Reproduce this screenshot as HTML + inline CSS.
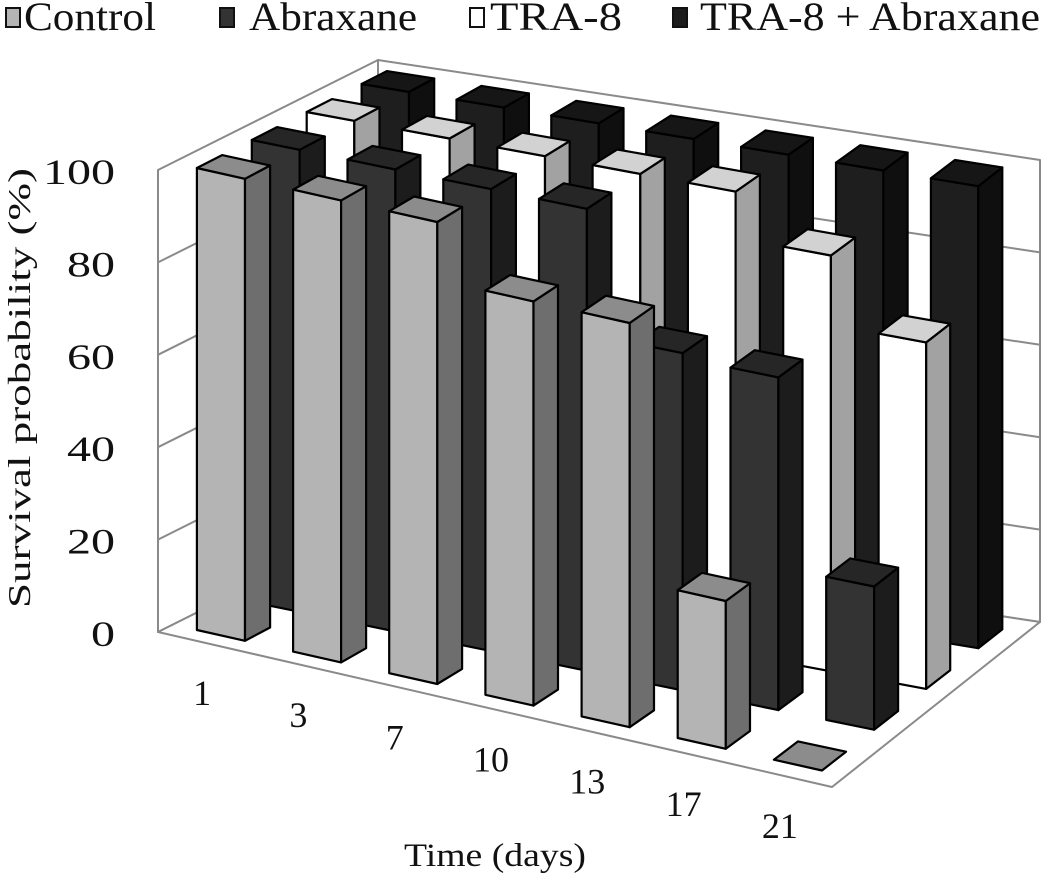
<!DOCTYPE html>
<html><head><meta charset="utf-8"><style>
html,body{margin:0;padding:0;background:#fff}
svg{display:block}
text{font-family:"Liberation Serif",serif;fill:#111}
</style></head><body>
<svg id="chart" width="1050" height="876" viewBox="0 0 1050 876" xmlns="http://www.w3.org/2000/svg">
<g id="walls"></g>
<g id="bars"></g>
<g id="labels"></g>
<text x="0" y="0" transform="translate(30,388) rotate(-90)" text-anchor="middle" font-size="32" textLength="440" lengthAdjust="spacingAndGlyphs">Survival probability (%)</text>
<text x="495" y="866" text-anchor="middle" font-size="33" textLength="182" lengthAdjust="spacingAndGlyphs">Time (days)</text>
<g>
 <g><rect x="6" y="8" width="14" height="19" fill="#b4b4b4" stroke="#111" stroke-width="2"/><text x="24" y="30" font-size="40" textLength="132" lengthAdjust="spacingAndGlyphs">Control</text></g>
 <g><rect x="220" y="8" width="14" height="19" fill="#333" stroke="#111" stroke-width="2"/><text x="249" y="30" font-size="40" textLength="168" lengthAdjust="spacingAndGlyphs">Abraxane</text></g>
 <g><rect x="470" y="8" width="14" height="19" fill="#fff" stroke="#111" stroke-width="2"/><text x="490" y="30" font-size="40" textLength="132" lengthAdjust="spacingAndGlyphs">TRA-8</text></g>
 <g><rect x="673" y="8" width="14" height="19" fill="#1c1c1c" stroke="#111" stroke-width="2"/><text x="700" y="30" font-size="40" textLength="340" lengthAdjust="spacingAndGlyphs">TRA-8 + Abraxane</text></g>
</g>
</svg>
<script>
const days = ["1","3","7","10","13","17","21"];
const seriesNames = ["Control","Abraxane","TRA-8","TRA-8 + Abraxane"];
const control = [100,100,100,87.5,87.5,32,0];
const abraxane = [100,100,100,100,73,72,31];
const tra8 = [100,100,100,100,100,90,75];
const combo = [100,100,100,100,100,100,100];
const yTicks = [0,20,40,60,80,100];

const NS="http://www.w3.org/2000/svg";
const FL={x:158,y:632}, FR={x:832,y:787}, BL={x:378,y:522}, BR={x:1040,y:622};
const K=4.62, ND=days.length, NR=seriesNames.length;
function P(u,w,v){
  const a=u/ND, b=w/NR;
  const fx=FL.x+a*(FR.x-FL.x), fy=FL.y+a*(FR.y-FL.y);
  const bx=BL.x+a*(BR.x-BL.x), by=BL.y+a*(BR.y-BL.y);
  return [fx+b*(bx-fx), fy+b*(by-fy)-v*K];
}
function poly(parent,pts,fill,stroke,sw,name){
  const p=document.createElementNS(NS,'polygon');
  p.setAttribute('points',pts.map(q=>q[0].toFixed(1)+','+q[1].toFixed(1)).join(' '));
  p.setAttribute('fill',fill);p.setAttribute('stroke',stroke);p.setAttribute('stroke-width',sw);
  p.setAttribute('stroke-linejoin','round');
  
  
  parent.appendChild(p);return p;
}
function line(parent,a,b,name){
  const l=document.createElementNS(NS,'line');
  l.setAttribute('x1',a[0]);l.setAttribute('y1',a[1]);l.setAttribute('x2',b[0]);l.setAttribute('y2',b[1]);
  l.setAttribute('stroke','#8a8a8a');l.setAttribute('stroke-width','2');
  
  
  parent.appendChild(l);
}
const walls=document.getElementById('walls');
const topV=yTicks[yTicks.length-1];
poly(walls,[P(0,0,0),P(0,NR,0),P(0,NR,topV),P(0,0,topV)],'#fff','#8a8a8a',2,'left-wall');
poly(walls,[P(0,NR,0),P(ND,NR,0),P(ND,NR,topV),P(0,NR,topV)],'#fff','#8a8a8a',2,'back-wall');
poly(walls,[P(0,0,0),P(ND,0,0),P(ND,NR,0),P(0,NR,0)],'#fff','#8a8a8a',2,'floor');
yTicks.forEach(t=>{ if(t>0&&t<topV){
  line(walls,P(0,0,t),P(0,NR,t),'gridline-left-'+t);
  line(walls,P(0,NR,t),P(ND,NR,t),'gridline-back-'+t);
}});
const seriesData=[control,abraxane,tra8,combo];
const colors=[
  {f:'#b4b4b4',s:'#6e6e6e',t:'#8c8c8c'},
  {f:'#333333',s:'#1c1c1c',t:'#262626'},
  {f:'#ffffff',s:'#a2a2a2',t:'#d2d2d2'},
  {f:'#1e1e1e',s:'#0f0f0f',t:'#161616'}];
const bars=document.getElementById('bars');
for(let j=NR-1;j>=0;j--){
  for(let i=0;i<ND;i++){
    const v=seriesData[j][i], c=colors[j];
    const u0=i+0.25,u1=i+0.75,w0=j+0.27,w1=j+0.73;
    const g=document.createElementNS(NS,'g');
    
    
    bars.appendChild(g);
    if(v>0){
      poly(g,[P(u0,w0,0),P(u1,w0,0),P(u1,w0,v),P(u0,w0,v)],c.f,'#000',2.2,'bar-front');
      poly(g,[P(u1,w0,0),P(u1,w1,0),P(u1,w1,v),P(u1,w0,v)],c.s,'#000',2.2,'bar-side');
    }
    poly(g,[P(u0,w0,v),P(u1,w0,v),P(u1,w1,v),P(u0,w1,v)],c.t,'#000',2.2,'bar-top');
  }
}
const labels=document.getElementById('labels');
yTicks.forEach(t=>{
  const p=P(0,0,t);
  const tx=document.createElementNS(NS,'text');
  tx.setAttribute('x',115);tx.setAttribute('y',p[1]+14);
  tx.setAttribute('text-anchor','end');tx.setAttribute('font-size','36');
  tx.setAttribute('textLength',String(t).length*24);
  tx.setAttribute('lengthAdjust','spacingAndGlyphs');
  tx.textContent=t;
  
  
  labels.appendChild(tx);
});
days.forEach((d,i)=>{
  const p=P(i+0.5,0,0);
  const tx=document.createElementNS(NS,'text');
  tx.setAttribute('x',p[0]-4);tx.setAttribute('y',p[1]+62);
  tx.setAttribute('text-anchor','middle');tx.setAttribute('font-size','36');
  tx.setAttribute('textLength',d.length*18);
  tx.setAttribute('lengthAdjust','spacingAndGlyphs');
  tx.textContent=d;
  
  
  labels.appendChild(tx);
});
</script>
</body></html>
